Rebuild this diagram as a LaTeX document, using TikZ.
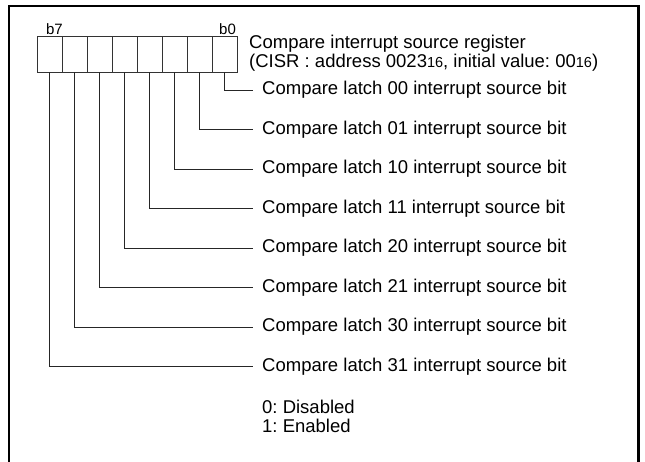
\documentclass[tikz,border=0pt]{standalone}
\usepackage{fontspec}
\setmainfont{Liberation Sans}
\frenchspacing
\begin{document}
\begin{tikzpicture}[x=1pt,y=-1pt,
  cell/.style={draw=black!80,line width=0.9pt,minimum width=25pt,minimum height=36pt,inner sep=0pt,outer sep=0pt},
  lbl/.style={anchor=west,inner sep=0pt,font=\fontsize{18.5}{19}\selectfont},
  bitlbl/.style={inner sep=0pt,font=\fontsize{15}{16}\selectfont},
  conn/.style={draw=black!85,line width=0.9pt},
  frame/.style={draw=black,line width=2.5pt}]
\useasboundingbox (0,0) rectangle (645,461);
\draw[frame] (9,475) -- (9,6) -- (638.5,6) -- (638.5,475);
% register cells
\foreach \i in {0,...,7}{
  \node[cell] (c\i) at ({224.5-25*\i},54) {};
}
\node[bitlbl] (b7) at (54.5,29) {b7};
\node[bitlbl] (b0) at (227.5,29) {b0};
\node[lbl,align=left,anchor=north west] (title) at (249,35) {Compare interrupt source register\\(CISR : address 0023{\fontsize{14.5}{14}\selectfont 16}, initial value: 00{\fontsize{14.5}{14}\selectfont 16})};
% bit labels
\node[lbl] (l0) at (262,90) {Compare latch 00 interrupt source bit};
\node[lbl] (l1) at (262,129.5) {Compare latch 01 interrupt source bit};
\node[lbl] (l2) at (262,169) {Compare latch 10 interrupt source bit};
\node[lbl] (l3) at (262,208.5) {Compare latch 11 interrupt source bit};
\node[lbl] (l4) at (262,248) {Compare latch 20 interrupt source bit};
\node[lbl] (l5) at (262,287.5) {Compare latch 21 interrupt source bit};
\node[lbl] (l6) at (262,327) {Compare latch 30 interrupt source bit};
\node[lbl] (l7) at (262,366.5) {Compare latch 31 interrupt source bit};
\foreach \i in {0,...,7}{
  \draw[conn] (c\i.south) |- ([xshift=-9pt]l\i.west);
}
\node[lbl,align=left,anchor=north west] (note) at (262,400) {0: Disabled\\1: Enabled};
\end{tikzpicture}
\end{document}
